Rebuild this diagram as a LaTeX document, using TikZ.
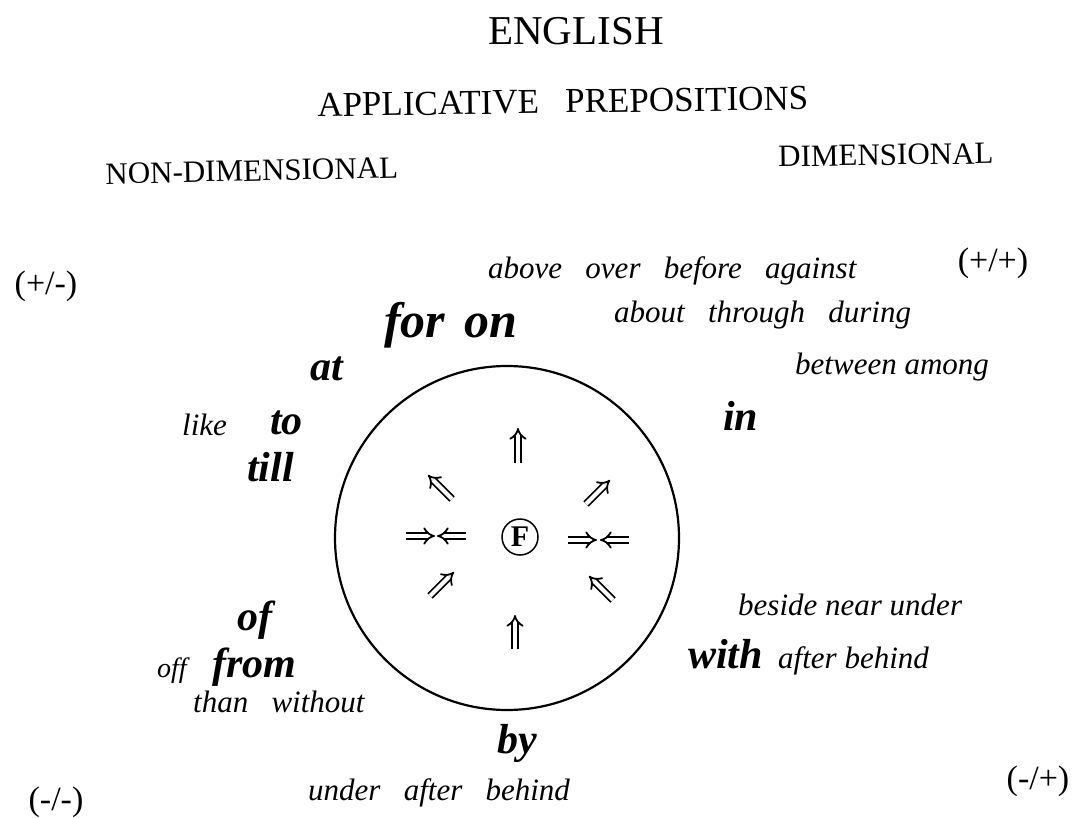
\documentclass[tikz,border=0pt]{standalone}
\usepackage{fontspec}
\setmainfont{Liberation Serif}
\usetikzlibrary{arrows.meta}
\newcommand{\wsp}{\hspace{0.75em}}
\begin{document}
\begin{tikzpicture}[x=1pt,y=-1pt,
  title/.style={inner sep=0, anchor=base},
  it/.style={font=\fontsize{31}{36}\selectfont\itshape, anchor=base west, inner sep=0},
  bi/.style={font=\fontsize{42}{48}\selectfont\bfseries\itshape, anchor=base west, inner sep=0},
  bibig/.style={font=\fontsize{50}{56}\selectfont\bfseries\itshape, anchor=base west, inner sep=0},
  sign/.style={font=\fontsize{34}{40}\selectfont, inner sep=0},
  dbl/.style={double, double distance=4pt, line width=1.8pt, -{Implies}},
]
\useasboundingbox[fill=white] (0,0) rectangle (1081,818);

% titles
\node[title, font=\fontsize{41}{46}\selectfont] (eng) at (576,45) {ENGLISH};
\node[title, font=\fontsize{35}{40}\selectfont, rotate=0.8] (app) at (563,113) {APPLICATIVE\wsp PREPOSITIONS};
\node[title, font=\fontsize{31}{35}\selectfont, rotate=1.2] (nondim) at (252,181) {NON-DIMENSIONAL};
\node[title, font=\fontsize{31}{35}\selectfont, rotate=0.8] (dim) at (886,165) {DIMENSIONAL};

% quadrant signs
\node[sign] (pm) at (46,286) {(+/-)};
\node[sign] (pp) at (993,263) {(+/+)};
\node[sign] (mm) at (56,802) {(-/-)};
\node[sign] (mp) at (1038,781) {(-/+)};

% central circle
\draw[line width=2.2pt] (507,538) circle[radius=172];
\node[circle, draw, line width=1.5pt, minimum size=36pt, inner sep=0,
      font=\fontsize{30}{32}\selectfont\bfseries] (F) at (520,537) {F};

% double arrows inside the circle
\coordinate (aupA) at (518,463);  \coordinate (aupB) at (518,428);
\coordinate (aulA) at (452,499);  \coordinate (aulB) at (428,475);
\coordinate (aurA) at (586,504);  \coordinate (aurB) at (610,480);
\coordinate (alA) at (406,536);   \coordinate (alB) at (435,536);
\coordinate (alC) at (466,536);   \coordinate (alD) at (437,536);
\coordinate (arA) at (568,540);   \coordinate (arB) at (597,540);
\coordinate (arC) at (629,540);   \coordinate (arD) at (600,540);
\coordinate (allA) at (430,596);  \coordinate (allB) at (454,572);
\coordinate (alrA) at (613,600);  \coordinate (alrB) at (589,576);
\coordinate (adnA) at (515,649);  \coordinate (adnB) at (515,615);
\draw[dbl] (aupA) -- (aupB);
\draw[dbl] (aulA) -- (aulB);
\draw[dbl] (aurA) -- (aurB);
\draw[dbl] (alA) -- (alB);
\draw[dbl] (alC) -- (alD);
\draw[dbl] (arA) -- (arB);
\draw[dbl] (arC) -- (arD);
\draw[dbl] (allA) -- (allB);
\draw[dbl] (alrA) -- (alrB);
\draw[dbl] (adnA) -- (adnB);

% upper words
\node[it] (above) at (488,279) {above\wsp over\wsp before\wsp against};
\node[bibig] (for) at (384,337) {for};
\node[bibig] (on) at (464,337) {on};
\node[it] (about) at (614,322) {about\wsp through\wsp during};
\node[bi] (at) at (310,380) {at};
\node[it] (between) at (795,374) {between among};
\node[bi] (in) at (723,430) {in};
\node[it] (like) at (182,435) {like};
\node[bi] (to) at (270,434) {to};
\node[bi] (till) at (247,481) {till};

% lower words
\node[it] (beside) at (738,615) {beside near under};
\node[bi] (of) at (237,630) {of};
\node[bi] (with) at (688,668) {with};
\node[it] (afterb) at (778,668) {after behind};
\node[it, font=\fontsize{28}{32}\selectfont\itshape] (off) at (157,677) {off};
\node[bi] (from) at (212,677) {from};
\node[it] (than) at (193,712) {than\wsp without};
\node[bi] (by) at (497,753) {by};
\node[it] (under) at (308,800) {under\wsp after\wsp behind};
\end{tikzpicture}
\end{document}
